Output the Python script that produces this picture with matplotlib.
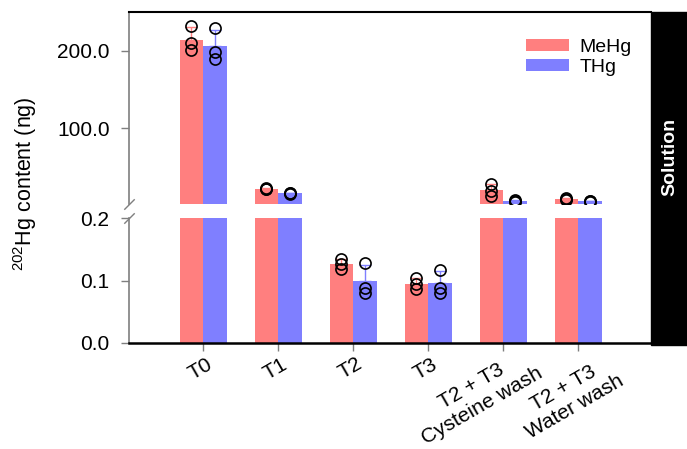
import matplotlib
matplotlib.use('Agg')
import matplotlib.pyplot as plt
import matplotlib.transforms as mtransforms
from matplotlib.patches import Rectangle
import numpy as np

plt.rcParams['font.family'] = ['Liberation Sans', 'DejaVu Sans']
plt.rcParams['mathtext.fontset'] = 'custom'
plt.rcParams['mathtext.rm'] = 'Liberation Sans'
plt.rcParams['mathtext.it'] = 'Liberation Sans:italic'
plt.rcParams['mathtext.bf'] = 'Liberation Sans:bold'

categories = ['T0', 'T1', 'T2', 'T3', 'T2 + T3\nCysteine wash', 'T2 + T3\nWater wash']
mehg_reps = [[232.0, 210.0, 201.0],
             [21.5, 22.5, 22.0],
             [0.135, 0.127, 0.119],
             [0.1035, 0.094, 0.0864],
             [28.0, 19.6, 13.0],
             [10.0, 9.0, 8.0]]
thg_reps = [[229.0, 199.0, 190.0],
            [16.0, 16.5, 17.0],
            [0.128, 0.088, 0.080],
            [0.117, 0.0885, 0.0805],
            [7.5, 7.0, 5.5],
            [6.3, 5.8, 5.6]]
series_names = ['MeHg', 'THg']
series_colors = ['#FF7F7F', '#7F7FFF']

GRAY = '#7f7f7f'
W, H = 687, 449
TOP_LIM = (2.5, 250)
BOT_LIM = (0, 0.2)
# nudges (inches) for the rotated category labels
label_nudge = [(0.03, -0.03)] * 4 + [(0.22, 0.07), (0.28, -0.01)]

fig = plt.figure(figsize=(W / 100, H / 100), dpi=100)
ax_top = fig.add_axes([129 / W, 1 - 204 / H, 522 / W, 192 / H])
ax_bot = fig.add_axes([129 / W, 1 - 343 / H, 522 / W, 125 / H])

x = np.arange(len(categories))
bw = 0.315
offsets = [-bw / 2, bw / 2]

for reps, off, col, name in zip([mehg_reps, thg_reps], offsets, series_colors, series_names):
    reps = np.array(reps)
    means = reps.mean(axis=1)
    sds = reps.std(axis=1, ddof=1)
    for ax, lim in ((ax_top, TOP_LIM), (ax_bot, BOT_LIM)):
        ax.bar(x + off, means, width=bw, color=col, linewidth=0, label=name, zorder=1)
        show = means > lim[0]
        ax.errorbar((x + off)[show], means[show], yerr=[np.zeros(show.sum()), sds[show]],
                    fmt='none', ecolor=col, elinewidth=1.0, capsize=4.5, capthick=1.0,
                    zorder=2)
        for i in range(len(x)):
            pts = reps[i][reps[i] > lim[0]]
            if len(pts) == 0:
                continue
            ax.plot(np.full(len(pts), x[i] + off), pts, 'o', ms=8,
                    mfc='none', mec='black', mew=1.2, zorder=3)

for ax in (ax_top, ax_bot):
    ax.set_xlim(-0.99, 5.97)
    ax.spines['right'].set_visible(False)
    ax.spines['left'].set_color(GRAY)
    ax.spines['left'].set_linewidth(1.2)
    ax.tick_params(axis='y', direction='out', length=6, width=1.0, color=GRAY,
                   labelsize=15, pad=8)

ax_top.set_ylim(*TOP_LIM)
ax_top.set_yticks([100, 200])
ax_top.set_yticklabels(['100.0', '200.0'])
ax_top.spines['bottom'].set_visible(False)
ax_top.spines['top'].set_linewidth(1.5)
ax_top.set_xticks([])

ax_bot.set_ylim(*BOT_LIM)
ax_bot.set_yticks([0.0, 0.1, 0.2])
ax_bot.set_yticklabels(['0.0', '0.1', '0.2'])
ax_bot.spines['top'].set_visible(False)
ax_bot.spines['bottom'].set_linewidth(1.8)
ax_bot.set_xticks(x)
ax_bot.tick_params(axis='x', direction='out', length=6, width=1.0, color=GRAY, pad=0)
labels = ax_bot.set_xticklabels(categories, fontsize=15, rotation=30, ha='right',
                                va='top', rotation_mode='anchor', multialignment='center')
for lab, (dx, dy) in zip(labels, label_nudge):
    shift = mtransforms.ScaledTranslation(dx, dy, fig.dpi_scale_trans)
    lab.set_transform(lab.get_transform() + shift)

# axis break marks
for ax, yy in ((ax_top, 0), (ax_bot, 1)):
    ax.plot([0], [yy], transform=ax.transAxes, marker=[(-1, -1), (1, 1)], ms=7.5,
            mec=GRAY, mew=1.0, clip_on=False, zorder=5)

leg = ax_top.legend(loc='upper left', bbox_to_anchor=(526 / W, 1 - 39 / H),
                    bbox_transform=fig.transFigure, frameon=False, fontsize=14,
                    handlelength=2.2, handleheight=0.6, handletextpad=0.55,
                    labelspacing=0.15, borderpad=0, borderaxespad=0)

fig.text(25 / W, 1 - 184 / H, r'$^{\mathrm{202}}$Hg content (ng)', rotation=90,
         ha='center', va='center', fontsize=15.5)

# black side panel
fig.patches.append(Rectangle((651 / W, 1 - 345 / H), 36 / W, 333 / H,
                             transform=fig.transFigure, color='black', zorder=0))
fig.text(670 / W, 1 - 157 / H, 'Solution', rotation=90, ha='center', va='center',
         color='white', fontsize=14, fontweight='bold')

fig.savefig('out.png', dpi=100)
